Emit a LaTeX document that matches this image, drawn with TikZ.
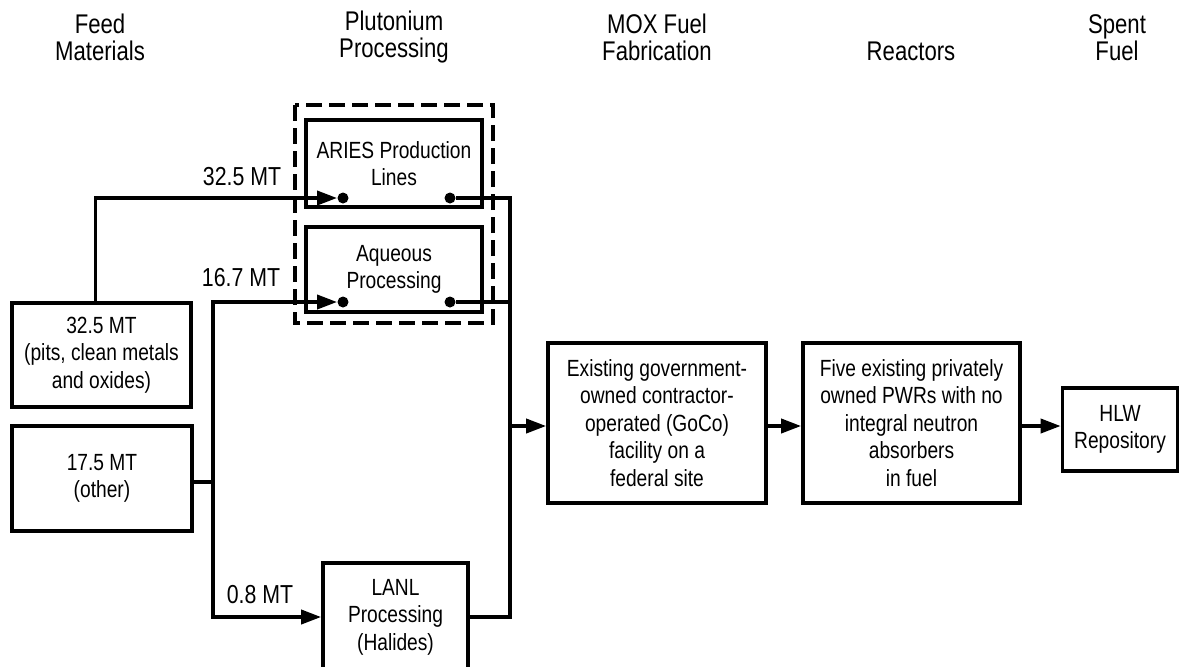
\documentclass[tikz,border=0pt]{standalone}
\usepackage{fontspec}
\setmainfont[FakeStretch=0.82]{Liberation Sans}
\usetikzlibrary{arrows.meta}

\tikzset{
  stage/.style={draw, line width=1.8pt, align=center, inner sep=0pt,
                font=\fontsize{11.7}{13.8}\selectfont},
  head/.style={align=center, font=\fontsize{13.5}{13.5}\selectfont},
  amount/.style={font=\fontsize{13}{14}\selectfont},
  pipe/.style={line width=1.8pt},
  flow/.style={line width=1.8pt, -{Triangle[length=10pt,width=7pt]}},
  port/.style={circle, fill, inner sep=0pt, minimum size=5.5pt},
}

\begin{document}
\begin{tikzpicture}[x=0.5pt, y=-0.5pt]
  \useasboundingbox (0,0) rectangle (1179,666);
  \clip (0,0) rectangle (1179,666);

  % column headings
  \node[head] (hfeed) at (100,37.5)  {Feed\\Materials};
  \node[head] (hpu)   at (394,37.5)  {Plutonium\\Processing};
  \node[head] (hmox)  at (657,37.5)  {MOX Fuel\\Fabrication};
  \node[head] (hreac) at (911,51)    {Reactors};
  \node[head] (hspent) at (1117,37.5) {Spent\\Fuel};

  % boxes
  \node[stage, minimum width=89.5pt, minimum height=52pt] (pits) at (101.5,355)
    {32.5 MT\\(pits, clean metals\\and oxides)};
  \node[stage, minimum width=90pt, minimum height=52.5pt] (other) at (102,478.5)
    {17.5 MT\\(other)};
  \node[stage, minimum width=88pt, minimum height=43.5pt] (aries) at (394,163.5)
    {ARIES Production\\Lines};
  \node[stage, minimum width=88pt, minimum height=42.5pt] (aqueous) at (394,269.5)
    {Aqueous\\Processing};
  \node[stage, minimum width=72.5pt, minimum height=54pt] (lanl) at (395.5,617)
    {LANL\\Processing\\(Halides)};
  \node[stage, minimum width=109pt, minimum height=80pt] (mox) at (657,423)
    {Existing government-\\owned contractor-\\operated (GoCo)\\facility on a\\federal site};
  \node[stage, minimum width=108.5pt, minimum height=80pt] (pwr) at (911.5,423)
    {Five existing privately\\owned PWRs with no\\integral neutron\\absorbers\\in fuel};
  \node[stage, minimum width=57.5pt, minimum height=41.5pt] (hlw) at (1120,429.5)
    {HLW\\Repository};

  % ports on the processing lines
  \node[port] (ariesin)  at (343,198) {};
  \node[port] (ariesout) at (450,198) {};
  \node[port] (aqin)     at (343,302) {};
  \node[port] (aqout)    at (450,302) {};

  \draw[line width=1.8pt, dash pattern=on 8pt off 3.5pt] (295,105) rectangle (493,323);

  % flows
  \coordinate (split) at (213,482);
  \coordinate (merge) at (510,426);
  \draw[flow] ([xshift=-3pt]pits.north) |- (ariesin);
  \draw[pipe] (split -| other.east) -- (split);
  \draw[flow] (split) |- (aqin);
  \draw[flow] (split) |- (lanl.west);
  \draw[pipe] (ariesout) -| (merge);
  \draw[pipe] (aqout) -- (aqout -| merge);
  \draw[pipe] (lanl.east) -| (merge);
  \draw[flow] (merge) -- (merge -| mox.west);
  \draw[flow] (mox.east |- merge) -- (pwr.west |- merge);
  \draw[flow] (pwr.east |- merge) -- (hlw.west |- merge);

  \node[amount] (m1) at (242,177) {32.5 MT};
  \node[amount] (m2) at (241,278) {16.7 MT};
  \node[amount] (m3) at (260,595) {0.8 MT};
\end{tikzpicture}
\end{document}
